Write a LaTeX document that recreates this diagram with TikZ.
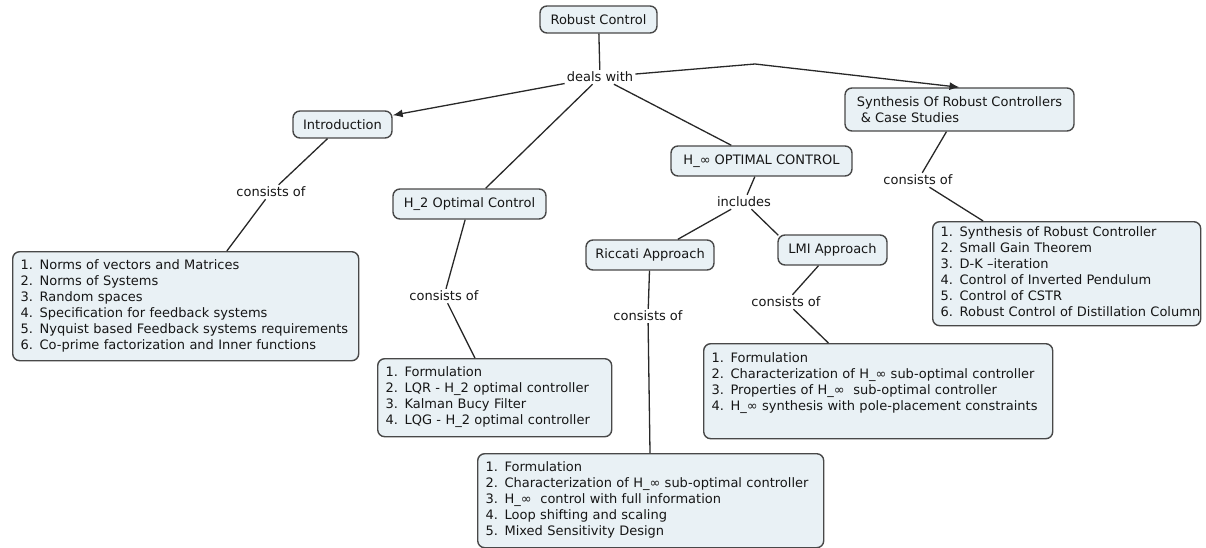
\documentclass[tikz,border=0pt]{standalone}
\usepackage{fontspec}
\setmainfont{DejaVu Sans}
\usetikzlibrary{arrows.meta}
\definecolor{boxfill}{RGB}{233,241,245}
\definecolor{boxline}{RGB}{72,72,72}
\definecolor{linkline}{RGB}{40,40,40}
\definecolor{ink}{RGB}{22,22,22}
% list of items, one per row, never broken
\newcommand{\itemrows}[1]{\begin{tabular}{@{}l@{}}#1\end{tabular}}
\begin{document}
\begin{tikzpicture}[x=1pt,y=-1pt,
  every node/.style={font=\fontsize{13}{16}\selectfont, text=ink},
  concept/.style={draw=boxline, fill=boxfill, line width=1.4pt,
                  rounded corners=7pt, inner sep=0pt},
  listbox/.style={concept, anchor=north west, align=left,
                  inner xsep=8pt, inner ysep=0pt},
  phrase/.style={inner sep=2pt},
  link/.style={draw=linkline, line width=1.3pt},
  arrowlink/.style={link, -{Latex[length=10pt,width=8pt]}}]
\useasboundingbox (0,0) rectangle (1206,548);

% concepts
\node[concept, minimum width=117pt, minimum height=27pt] (rc) at (598.5,19.5) {Robust Control};
\node[concept, minimum width=99pt, minimum height=27pt] (intro) at (342.5,124.5) {Introduction};
\node[concept, minimum width=153pt, minimum height=30pt] (h2) at (469.5,204) {H\_2 Optimal Control};
\node[concept, minimum width=181pt, minimum height=30pt] (hinf) at (761.5,161) {H\_∞ OPTIMAL CONTROL};
\node[concept, minimum width=229pt, minimum height=43pt, align=left] (synth) at (959.5,109.5)
  {Synthesis Of Robust Controllers\\\hspace{4pt}\& Case Studies};
\node[concept, minimum width=128pt, minimum height=30pt] (ricc) at (650,255) {Riccati Approach};
\node[concept, minimum width=109pt, minimum height=30pt] (lmi) at (832.5,250) {LMI Approach};

% item lists
\node[listbox, text width=330pt, minimum height=109pt] (introlist) at (12,251) {\itemrows{%
  1. Norms of vectors and Matrices\\
  2. Norms of Systems\\
  3. Random spaces\\
  4. Specification for feedback systems\\
  5. Nyquist based Feedback systems requirements\\
  6. Co-prime factorization and Inner functions}};
\node[listbox, text width=218pt, minimum height=78pt] (h2list) at (377,358) {\itemrows{%
  1. Formulation\\
  2. LQR - H\_2 optimal controller\\
  3. Kalman Bucy Filter\\
  4. LQG - H\_2 optimal controller}};
\node[listbox, text width=330pt, minimum height=94pt] (ricclist) at (477,453) {\itemrows{%
  1. Formulation\\
  2. Characterization of H\_∞ sub-optimal controller\\
  3. H\_∞\ \ control with full information\\
  4. Loop shifting and scaling\\
  5. Mixed Sensitivity Design}};
\node[listbox, text width=333pt, minimum height=95pt] (lmilist) at (703,343) {\itemrows{%
  1. Formulation\\
  2. Characterization of H\_∞ sub-optimal controller\\
  3. Properties of H\_∞\ \ sub-optimal controller\\
  4. H\_∞ synthesis with pole-placement constraints\\
  \mbox{}}};
\node[listbox, text width=252pt, minimum height=104pt] (synthlist) at (932,221) {\itemrows{%
  1. Synthesis of Robust Controller\\
  2. Small Gain Theorem\\
  3. D-K –iteration\\
  4. Control of Inverted Pendulum\\
  5. Control of CSTR\\
  6. Robust Control of Distillation Column}};

% linking phrases
\node[phrase] (deals) at (600,77) {deals with};
\node[phrase] (cintro) at (271,192) {consists of};
\node[phrase] (ch2) at (444,296) {consists of};
\node[phrase] (incl) at (744,202) {includes};
\node[phrase] (cricc) at (648,316) {consists of};
\node[phrase] (clmi) at (786,302) {consists of};
\node[phrase] (csynth) at (918,180) {consists of};
\coordinate (bend) at (755,64);

% connectors
\draw[link] (rc) -- (deals);
\draw[arrowlink] (deals) -- (intro);
\draw[link] (deals) -- (h2);
\draw[link] (deals) -- (hinf);
\draw[arrowlink] (deals) -- (bend) -- (synth.north);

\draw[link] (intro) -- (cintro);
\draw[link] (cintro) -- (introlist);
\draw[link] (h2) -- (ch2);
\draw[link] (ch2) -- (h2list);
\draw[link] (hinf) -- (incl);
\draw[link] (incl) -- (ricc);
\draw[link] (incl) -- ([xshift=1pt,yshift=-1pt]lmi.north west);
\draw[link] (ricc) -- (cricc);
\draw[link] (cricc) -- (ricclist);
\draw[link] (lmi) -- (clmi);
\draw[link] (clmi) -- (lmilist);
\draw[link] (synth) -- (csynth);
\draw[link] (csynth) -- (synthlist);
\end{tikzpicture}
\end{document}
